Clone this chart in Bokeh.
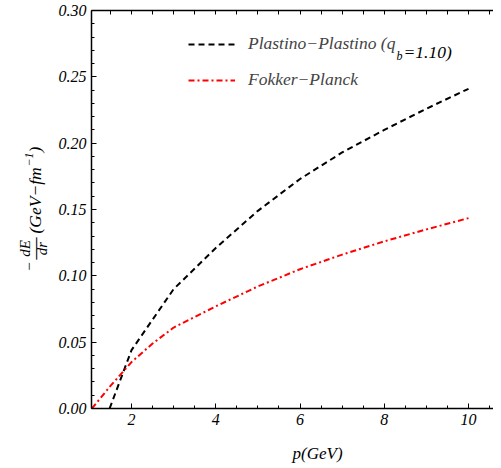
import math
from bokeh.plotting import figure
from bokeh.layouts import row, column
from bokeh.models import (Range1d, SingleIntervalTicker, FixedTicker, LinearAxis,
                          NumeralTickFormatter, Legend, LegendItem, Label)
from bokeh.core.properties import value
from bokeh.embed import file_html
from bokeh.resources import INLINE

# ---- data ----
pp_x = [1.48, 2.0, 3.0, 4.0, 5.0, 6.0, 7.0, 8.0, 9.0, 10.0]
pp_y = [0.0, 0.044, 0.090, 0.121, 0.149, 0.173, 0.193, 0.210, 0.226, 0.241]

fp_x = [1.06, 1.5, 2.0, 2.5, 3.0, 3.5, 4.0, 5.0, 6.0, 7.0, 8.0, 9.0, 10.0]
fp_y = [0.0, 0.017, 0.035, 0.049, 0.061, 0.069, 0.077, 0.092, 0.105, 0.116, 0.126, 0.135, 0.1435]

label_pp = "Plastino\u2212Plastino (q"
label_pp_sub = "b"
label_pp_tail = "=1.10)"
label_fp = "Fokker\u2212Planck"
x_title = "p(GeV)"
y_title_parts = ["\u2212", "dE", "\u2014", "dr", "(GeV\u2212fm", "\u22121", ")"]

x_top_ticks = [1.5, 2.0, 2.5, 3.0, 3.5, 4.0, 4.5, 5.0, 5.5, 6.0, 6.5, 7.0, 7.5,
               8.0, 8.5, 9.0, 9.5, 10.0, 10.5]

FONT = "Liberation Serif"
H_MAIN = 438     # main plot height (frame 10..408)
H_BOT = 26       # strip under it holding the x-axis title
H = H_MAIN + H_BOT
W1 = 52          # strip holding the vertical axis title
W2 = 493 - W1    # main plot width

def blank(fig):
    fig.grid.visible = False
    fig.outline_line_color = None
    fig.background_fill_color = "white"
    fig.border_fill_color = "white"

# ---------------- main plot ----------------
p = figure(width=W2, height=H_MAIN, output_backend="svg", toolbar_location=None,
           x_range=Range1d(1.05, 10.593), y_range=Range1d(0.0, 0.30001),
           min_border_left=91 - W1, min_border_right=0, min_border_top=10,
           min_border_bottom=30, x_axis_type=None, y_axis_type=None)
blank(p)

def style_axis(ax):
    ax.axis_line_color = "black"
    ax.axis_line_width = 1.5
    ax.major_tick_in = 5
    ax.major_tick_out = 0
    ax.minor_tick_in = 3
    ax.minor_tick_out = 0
    ax.major_tick_line_color = "black"
    ax.minor_tick_line_color = "black"
    ax.major_label_text_font = FONT
    ax.major_label_text_font_style = "italic"
    ax.major_label_text_font_size = "16px"
    ax.major_label_text_color = "black"

xb = LinearAxis(ticker=SingleIntervalTicker(interval=2, num_minor_ticks=4))
style_axis(xb)
xb.major_label_standoff = 5
p.add_layout(xb, "below")

xt = LinearAxis(ticker=FixedTicker(ticks=[], minor_ticks=x_top_ticks))
style_axis(xt)
xt.minor_tick_in = 4
p.add_layout(xt, "above")

yl = LinearAxis(ticker=SingleIntervalTicker(interval=0.05, num_minor_ticks=5),
                formatter=NumeralTickFormatter(format="0.00"))
style_axis(yl)
yl.major_label_standoff = 5
p.add_layout(yl, "left")

r1 = p.line(pp_x, pp_y, line_color="black", line_width=2, line_dash="6 4")
r2 = p.line(fp_x, fp_y, line_color="#ff0000", line_width=2, line_dash="6 3 2 3")

legend = Legend(items=[LegendItem(label=label_pp, renderers=[r1]),
                       LegendItem(label=label_fp, renderers=[r2])],
                location=(97, 318), orientation="vertical",
                border_line_color=None, background_fill_alpha=0,
                padding=0, margin=0, spacing=15,
                glyph_width=47, glyph_height=20, label_height=20, label_standoff=13,
                label_text_font=FONT, label_text_font_style="italic",
                label_text_font_size="17.5px")
p.add_layout(legend)

def lab(text, x, y, size, align="left"):
    p.add_layout(Label(x=x, y=y, x_units="screen", y_units="screen", text=text,
                       text_font=FONT, text_font_style="italic", text_font_size=size,
                       text_color="black", text_align=align,
                       text_baseline="alphabetic"))

lab(label_pp_sub, 305, 353, "12px")
lab(label_pp_tail, 312, 357, "17.5px")

# ---------------- strip under the plot: x-axis title ----------------
b = figure(width=W2, height=H_BOT, output_backend="svg", toolbar_location=None,
           x_range=Range1d(0, W2), y_range=Range1d(0, H_BOT),
           min_border=0, x_axis_type=None, y_axis_type=None)
blank(b)
b.text(x=[248], y=[11.5], text=[x_title], text_font=value(FONT),
       text_font_style="italic", text_font_size="17px", text_color="black",
       text_align="center", text_baseline="middle")

# ---------------- strip left of the plot: vertical axis title ----------------
t = figure(width=W1, height=H, output_backend="svg", toolbar_location=None,
           x_range=Range1d(0, W1), y_range=Range1d(0, H),
           min_border=0, x_axis_type=None, y_axis_type=None)
blank(t)

# pixel positions inside the strip (from its left / bottom edge)
yt_x = [28, 24, 33.5, 41, 34, 28, 34]
yt_y = [198, 216, 216, 216, 231, 298, 312]
yt_size = ["15px", "15px", "22px", "15px", "17.5px", "12px", "17.5px"]
yt_style = ["normal", "italic", "normal", "italic", "italic", "italic", "italic"]
yt_align = ["center", "center", "center", "center", "left", "left", "left"]
yt_base = ["middle", "alphabetic", "alphabetic", "alphabetic", "alphabetic",
           "alphabetic", "alphabetic"]
for txt, xx, yy, sz, st, al, bl in zip(y_title_parts, yt_x, yt_y, yt_size, yt_style,
                                       yt_align, yt_base):
    t.text(x=[xx], y=[yy], text=[txt], angle=math.pi / 2,
           text_font=value(FONT), text_font_style=st, text_font_size=sz,
           text_color="black", text_align=al, text_baseline=bl)

layout = row(t, column(p, b))
open("out.html", "w").write(file_html(layout, INLINE))
